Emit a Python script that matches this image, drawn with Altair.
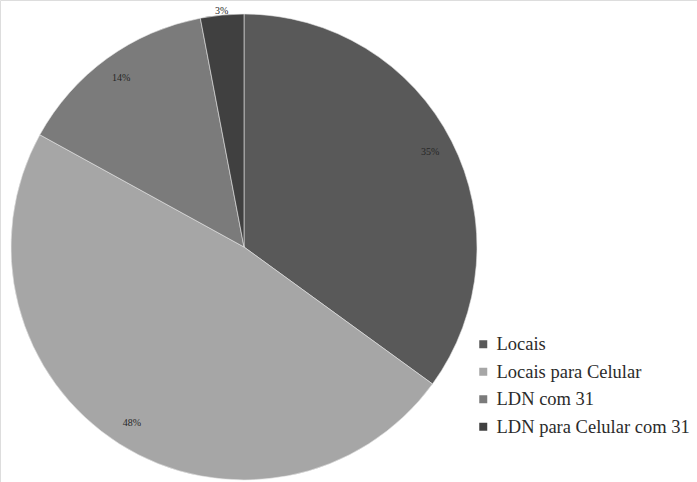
import altair as alt
import pandas as pd

categories = ["Locais", "Locais para Celular", "LDN com 31", "LDN para Celular com 31"]
values = [35, 48, 14, 3]
labels = ["35%", "48%", "14%", "3%"]
colors = ["#595959", "#a6a6a6", "#7b7b7b", "#404040"]

SERIF = "Times New Roman, Liberation Serif, DejaVu Serif, serif"

df = pd.DataFrame({"cat": categories, "val": values, "lab": labels,
                   "order": list(range(len(categories)))})

pie = alt.Chart(df).mark_arc(outerRadius=233, stroke="#e4e4e4", strokeWidth=0.6).encode(
    x=alt.value(244), y=alt.value(247),
    theta=alt.Theta("val:Q", stack=True),
    order=alt.Order("order:Q"),
    color=alt.Color("cat:N", sort=categories,
                    scale=alt.Scale(domain=categories, range=colors),
                    legend=alt.Legend(title=None, orient="none", legendX=474, legendY=335,
                                      symbolType="square", symbolSize=64,
                                      symbolStrokeWidth=0,
                                      labelFont=SERIF, labelFontSize=18.5,
                                      labelColor="#2b2b2b", rowPadding=8.5,
                                      labelOffset=4, labelLimit=400)),
)


def label_layer(cond, radius):
    return alt.Chart(df).transform_stack(
        stack="val", as_=["v0", "v1"], groupby=[], sort=[alt.SortField("order")]
    ).transform_calculate(
        mid="(datum.v0 + datum.v1) / 2"
    ).transform_filter(cond).mark_text(
        radius=radius, font=SERIF, fontSize=10, color="#262626"
    ).encode(
        x=alt.value(244), y=alt.value(247),
        theta=alt.Theta("mid:Q", scale=alt.Scale(domain=[0, 100])),
        text="lab:N",
    )


txt_all = label_layer(alt.datum.val > 5, 209)
txt_tiny = label_layer(alt.datum.val <= 5, 237)

chart = alt.layer(pie, txt_all, txt_tiny).properties(
    width=697, height=482, autosize=alt.AutoSizeParams(type="none"), padding=0,
    background="#ffffff"
).configure_view(stroke=None).configure_legend(
    labelFont=SERIF, labelFontSize=18.5, labelColor="#2b2b2b"
).configure(font=SERIF).resolve_scale(theta="independent")

chart.save("out.html", embed_options={"renderer": "svg", "actions": False})
